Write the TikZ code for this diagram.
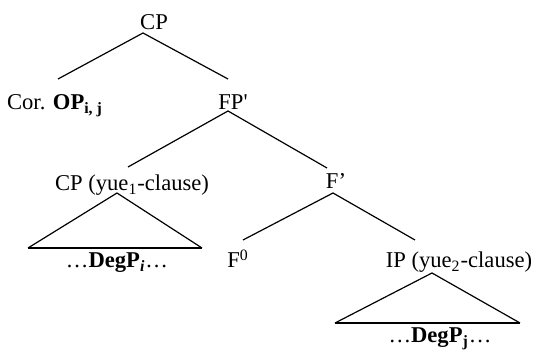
\documentclass[tikz,border=0pt]{standalone}
\usepackage{fontspec}
\setmainfont{Liberation Serif}
\begin{document}
\begin{tikzpicture}[x=0.5pt,y=-0.5pt,
  lbl/.style={anchor=base,inner sep=0pt,font=\fontsize{11.3}{13}\selectfont},
  branch/.style={line width=0.6pt},
  tribase/.style={line width=1pt}]
\useasboundingbox (0,0) rectangle (537,352);
% labels
\node[lbl] (cp) at (154,30) {CP};
\node[lbl] (cor) at (55,110) {Cor. \textbf{OP}\textsubscript{\textbf{i, j}}};
\node[lbl] (fp) at (233,110) {FP\textquotesingle};
\node[lbl] (cpy) at (132,191) {CP (yue\textsubscript{1}-clause)};
\node[lbl] (fbar) at (336,189) {F’};
\node[lbl] (degi) at (117,268) {…\textbf{DegP}\textsubscript{\textbf{\textit{i}}}…};
\node[lbl] (f0) at (238,268) {F\textsuperscript{0}};
\node[lbl] (ip) at (459,268) {IP (yue\textsubscript{2}-clause)};
\node[lbl] (degj) at (440,343) {…\textbf{DegP}\textsubscript{\textbf{j}}…};
% branch points
\coordinate (cpB) at (143,33);
\coordinate (corT) at (58,79);
\coordinate (fpT) at (228,79);
\coordinate (fpB) at (228,111);
\coordinate (cpyT) at (128,167);
\coordinate (fbarT) at (327,168);
\coordinate (fbarB) at (333,193);
\coordinate (f0T) at (243,240);
\coordinate (ipT) at (415,240);
\coordinate (t1a) at (117,193);
\coordinate (t1l) at (28,248);
\coordinate (t1r) at (202,248);
\coordinate (t2a) at (432,273);
\coordinate (t2l) at (335,323);
\coordinate (t2r) at (520,323);
% branches
\draw[branch] (corT) -- (cpB) -- (fpT);
\draw[branch] (cpyT) -- (fpB) -- (fbarT);
\draw[branch] (f0T) -- (fbarB) -- (ipT);
% triangles
\draw[branch] (t1l) -- (t1a) -- (t1r);
\draw[tribase] (t1l) -- (t1r);
\draw[branch] (t2l) -- (t2a) -- (t2r);
\draw[tribase] (t2l) -- (t2r);
\end{tikzpicture}
\end{document}
